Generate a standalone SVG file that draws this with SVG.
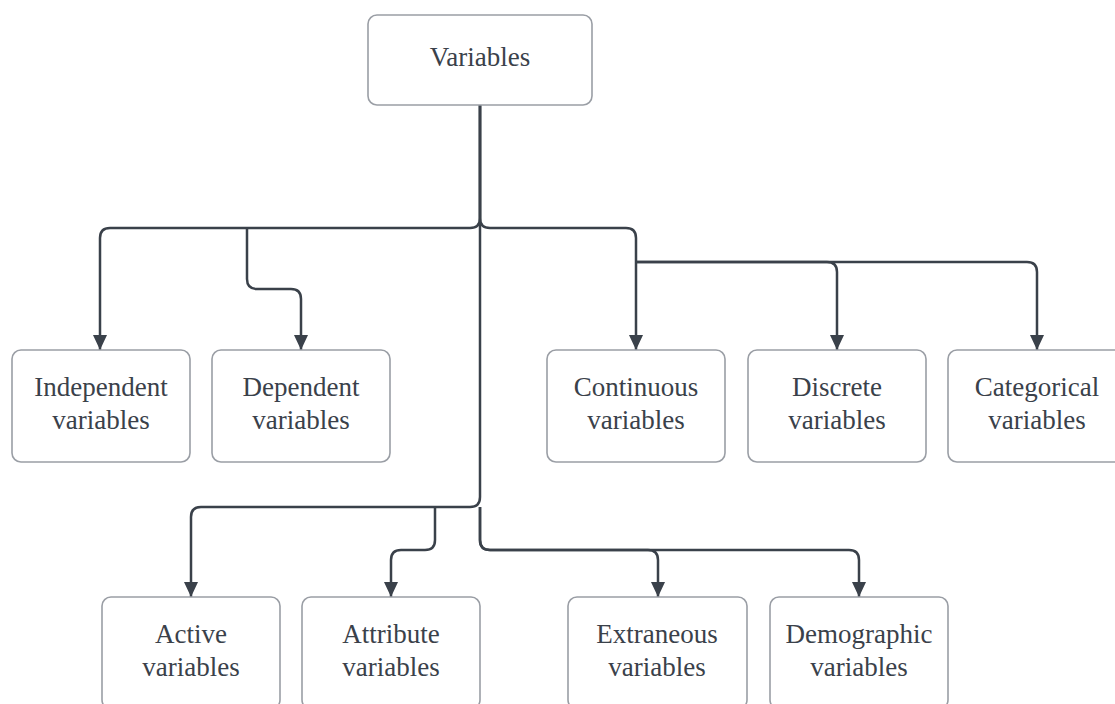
<svg xmlns="http://www.w3.org/2000/svg" width="1115" height="704" viewBox="0 0 1115 704">
<defs>
<style>
.box{fill:#ffffff;stroke:#9a9ea5;stroke-width:1.6}
.t{font-family:"Liberation Serif","Times New Roman",serif;font-size:27px;fill:#3a414a;text-anchor:middle}
.c{fill:none;stroke:#3a414a;stroke-width:2.5;marker-end:url(#ah)}
</style>
<marker id="ah" markerUnits="userSpaceOnUse" markerWidth="16" markerHeight="16" refX="15" refY="7" orient="auto" viewBox="0 0 16 14">
<path d="M0,0 L15,7 L0,14 z" fill="#3a414a"/>
</marker>
</defs>
<rect width="1115" height="704" fill="#ffffff"/>
<g id="connectors">
<path class="c" d="M480,105 V218 Q480,228 470,228 H110 Q100,228 100,238 V350"/>
<path class="c" d="M247,228 V279 Q247,289 257,289 H291 Q301,289 301,299 V350"/>
<path class="c" d="M480,105 V218 Q480,228 490,228 H626 Q636,228 636,238 V350"/>
<path class="c" d="M636,262 H827 Q837,262 837,272 V350"/>
<path class="c" d="M636,262 H1027 Q1037,262 1037,272 V350"/>
<path class="c" d="M480,105 V497 Q480,507 470,507 H201 Q191,507 191,517 V597"/>
<path class="c" d="M435,507 V540 Q435,550 425,550 H401 Q391,550 391,560 V597"/>
<path class="c" d="M480,507 V540 Q480,550 490,550 H648 Q658,550 658,560 V597"/>
<path class="c" d="M480,507 V540 Q480,550 490,550 H849 Q859,550 859,560 V597"/>
</g>
<g id="n-variables"><rect class="box" x="368" y="15" width="224" height="90" rx="9"/><text class="t" x="480" y="66">Variables</text></g>
<g id="n-independent"><rect class="box" x="12" y="350" width="178" height="112" rx="9"/><text class="t" x="101" y="396">Independent</text><text class="t" x="101" y="429">variables</text></g>
<g id="n-dependent"><rect class="box" x="212" y="350" width="178" height="112" rx="9"/><text class="t" x="301" y="396">Dependent</text><text class="t" x="301" y="429">variables</text></g>
<g id="n-continuous"><rect class="box" x="547" y="350" width="178" height="112" rx="9"/><text class="t" x="636" y="396">Continuous</text><text class="t" x="636" y="429">variables</text></g>
<g id="n-discrete"><rect class="box" x="748" y="350" width="178" height="112" rx="9"/><text class="t" x="837" y="396">Discrete</text><text class="t" x="837" y="429">variables</text></g>
<g id="n-categorical"><rect class="box" x="948" y="350" width="178" height="112" rx="9"/><text class="t" x="1037" y="396">Categorical</text><text class="t" x="1037" y="429">variables</text></g>
<g id="n-active"><rect class="box" x="102" y="597" width="178" height="112" rx="9"/><text class="t" x="191" y="643">Active</text><text class="t" x="191" y="676">variables</text></g>
<g id="n-attribute"><rect class="box" x="302" y="597" width="178" height="112" rx="9"/><text class="t" x="391" y="643">Attribute</text><text class="t" x="391" y="676">variables</text></g>
<g id="n-extraneous"><rect class="box" x="568" y="597" width="179" height="112" rx="9"/><text class="t" x="657" y="643">Extraneous</text><text class="t" x="657" y="676">variables</text></g>
<g id="n-demographic"><rect class="box" x="770" y="597" width="178" height="112" rx="9"/><text class="t" x="859" y="643">Demographic</text><text class="t" x="859" y="676">variables</text></g>
</svg>
